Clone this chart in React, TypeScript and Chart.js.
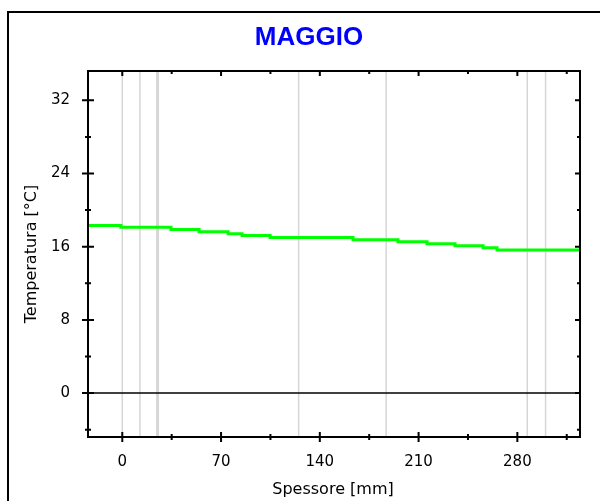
import React, { useEffect, useRef } from "react";
import { Chart, registerables } from "chart.js";

Chart.register(...registerables);

// Wall thickness positions (mm) where the temperature profile steps, and temperatures (°C)
const thicknessMm = [-24.3, -1, 34.5, 54.4, 75, 84.9, 104.8, 163.5, 195.4, 216, 235.8, 255.7, 265.6, 324.4];
const temperatureC = [18.31, 18.12, 17.87, 17.62, 17.4, 17.22, 17.0, 16.75, 16.53, 16.31, 16.09, 15.87, 15.65, 15.65];

// Layer boundaries (mm)
const layerBoundaries = [0, 12.5, 25, 125, 187, 287, 300];
const layerLineWidths = [1.5, 1.5, 3, 1.5, 1.5, 1.5, 1.5];

// Axis ticks
const xMajorTicks = [0, 70, 140, 210, 280];
const xMinorTicks = [35, 105, 175, 245, 315];
const yMajorTicks = [0, 8, 16, 24, 32];
const yMinorTicks = [-4, 4, 12, 20, 28];

const X_MIN = -24.3;
const X_MAX = 324.4;
const Y_MIN = -4.8;
const Y_MAX = 35.2;

const title = "MAGGIO";
const xTitle = "Spessore [mm]";
const yTitle = "Temperatura [°C]";

const decorPlugin = {
  id: "decor",
  beforeDraw(chart: any) {
    const ctx = chart.ctx;
    ctx.save();
    ctx.fillStyle = "#ffffff";
    ctx.fillRect(0, 0, chart.width, chart.height);
    // outer frame
    ctx.strokeStyle = "#000";
    ctx.lineWidth = 2;
    ctx.beginPath();
    ctx.moveTo(8, chart.height);
    ctx.lineTo(8, 12);
    ctx.lineTo(chart.width, 12);
    ctx.stroke();
    // title
    ctx.fillStyle = "#0000ff";
    ctx.font = "bold 26px 'Liberation Sans', Arial, sans-serif";
    ctx.textAlign = "center";
    ctx.textBaseline = "middle";
    ctx.fillText(title, 309, 38);
    // axis titles
    ctx.fillStyle = "#000";
    ctx.font = "16px 'DejaVu Sans', sans-serif";
    ctx.fillText(xTitle, 333, 490);
    ctx.translate(32, 254);
    ctx.rotate(-Math.PI / 2);
    ctx.fillText(yTitle, 0, 0);
    ctx.restore();
  },
  beforeDatasetsDraw(chart: any) {
    const ctx = chart.ctx;
    const { top, bottom, left, right } = chart.chartArea;
    const xs = chart.scales.x;
    const ys = chart.scales.y;
    ctx.save();
    ctx.strokeStyle = "#d6d6d6";
    layerBoundaries.forEach((v, i) => {
      const px = xs.getPixelForValue(v);
      ctx.lineWidth = layerLineWidths[i];
      ctx.beginPath();
      ctx.moveTo(px, top);
      ctx.lineTo(px, bottom);
      ctx.stroke();
    });
    // zero line
    const y0 = ys.getPixelForValue(0);
    ctx.strokeStyle = "#000";
    ctx.lineWidth = 1.5;
    ctx.beginPath();
    ctx.moveTo(left - 5, y0);
    ctx.lineTo(right, y0);
    ctx.stroke();
    ctx.restore();
  },
  afterDatasetsDraw(chart: any) {
    const ctx = chart.ctx;
    const { top, bottom, left, right } = chart.chartArea;
    const xs = chart.scales.x;
    const ys = chart.scales.y;
    ctx.save();
    ctx.strokeStyle = "#000";
    ctx.lineWidth = 2;
    ctx.strokeRect(left, top, right - left, bottom - top);
    ctx.lineWidth = 2;
    ctx.beginPath();
    xMajorTicks.forEach((v) => {
      const px = xs.getPixelForValue(v);
      ctx.moveTo(px, bottom - 5);
      ctx.lineTo(px, bottom + 5);
      ctx.moveTo(px, top);
      ctx.lineTo(px, top + 5);
    });
    xMinorTicks.forEach((v) => {
      const px = xs.getPixelForValue(v);
      ctx.moveTo(px, bottom - 3);
      ctx.lineTo(px, bottom + 3);
      ctx.moveTo(px, top);
      ctx.lineTo(px, top + 3);
    });
    yMajorTicks.forEach((v) => {
      const py = ys.getPixelForValue(v);
      ctx.moveTo(left - 6, py);
      ctx.lineTo(left + 6, py);
      ctx.moveTo(right, py);
      ctx.lineTo(right - 5, py);
    });
    yMinorTicks.forEach((v) => {
      const py = ys.getPixelForValue(v);
      ctx.moveTo(left - 3, py);
      ctx.lineTo(left + 3, py);
      ctx.moveTo(right, py);
      ctx.lineTo(right - 3, py);
    });
    ctx.stroke();
    ctx.restore();
  },
};

export default function App() {
  const ref = useRef<HTMLCanvasElement | null>(null);
  useEffect(() => {
    if (!ref.current) return;
    const data = thicknessMm.map((x, i) => ({ x, y: temperatureC[i] }));
    const chart = new Chart(ref.current, {
      type: "line",
      data: {
        datasets: [
          {
            data,
            borderColor: "#00ff00",
            borderWidth: 3,
            pointRadius: 0,
            stepped: "before",
            fill: false,
          },
        ],
      },
      options: {
        animation: false,
        responsive: false,
        devicePixelRatio: 1,
        layout: { padding: { top: 71, right: 20, left: 0, bottom: 0 } },
        plugins: { legend: { display: false }, tooltip: { enabled: false }, title: { display: false } },
        scales: {
          x: {
            type: "linear",
            min: X_MIN,
            max: X_MAX,
            grid: { display: false, drawTicks: false },
            border: { display: false },
            afterBuildTicks: (s: any) => {
              s.ticks = xMajorTicks.map((v) => ({ value: v }));
            },
            afterFit: (s: any) => {
              s.height = 64;
            },
            ticks: {
              padding: 16,
              maxRotation: 0,
              autoSkip: false,
              color: "#000",
              font: { family: "'DejaVu Sans', sans-serif", size: 15 },
            },
          },
          y: {
            type: "linear",
            min: Y_MIN,
            max: Y_MAX,
            grid: { display: false, drawTicks: false },
            border: { display: false },
            afterBuildTicks: (s: any) => {
              s.ticks = yMajorTicks.map((v) => ({ value: v }));
            },
            afterFit: (s: any) => {
              s.width = 88;
            },
            ticks: {
              padding: 18,
              autoSkip: false,
              color: "#000",
              font: { family: "'DejaVu Sans', sans-serif", size: 15 },
            },
          },
        },
      },
      plugins: [decorPlugin],
    } as any);
    return () => chart.destroy();
  }, []);
  return (
    <div style={{ position: "absolute", left: 0, top: 0, width: 600, height: 501, background: "#fff" }}>
      <canvas ref={ref} width={600} height={501} style={{ display: "block" }} />
    </div>
  );
}
